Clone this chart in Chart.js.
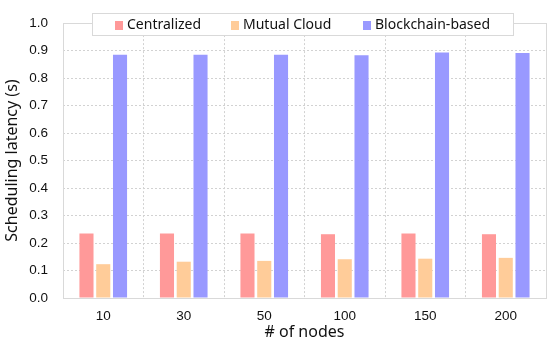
<!DOCTYPE html>
<html>
<head>
<meta charset="utf-8">
<script src="https://cdn.jsdelivr.net/npm/chart.js@4"></script>
<style>
  html, body { margin: 0; padding: 0; background: #fff; }
  #wrap { width: 550px; height: 346px; }
</style>
</head>
<body>
<div id="wrap"><canvas id="chart"></canvas></div>
<script>
// values
const nodes = ['10', '30', '50', '100', '150', '200'];
const centralized = [0.235, 0.235, 0.235, 0.232, 0.235, 0.232];
const mutualCloud = [0.123, 0.132, 0.135, 0.141, 0.143, 0.146];
const blockchain = [0.885, 0.885, 0.885, 0.883, 0.893, 0.891];
const seriesNames = ['Centralized', 'Mutual Cloud', 'Blockchain-based'];
const seriesColors = ['#ff9999', '#ffcc99', '#9999ff'];

const uiFont = '"Noto Sans", "Open Sans", sans-serif';
const tickFont = '"Liberation Sans", Arial, sans-serif';

// frame round the plot + legend box inside it
const framePlugin = {
    id: 'frame',
    afterDraw(chart) {
        const ctx = chart.ctx;
        const a = chart.chartArea;
        ctx.save();
        ctx.strokeStyle = '#d9d9d9';
        ctx.lineWidth = 1;
        ctx.strokeRect(Math.round(a.left) + 0.5, Math.round(a.top) + 0.5,
            Math.round(a.right - a.left), Math.round(a.bottom - a.top));

        // legend
        const bx = 92, by = 13, bw = 421, bh = 22;
        ctx.fillStyle = '#fff';
        ctx.fillRect(bx, by, bw, bh);
        ctx.strokeStyle = '#d9d9d9';
        ctx.strokeRect(bx + 0.5, by + 0.5, bw, bh);
        ctx.font = '14px ' + uiFont;
        ctx.textBaseline = 'middle';
        const starts = [115, 231, 363];
        chart.data.datasets.forEach((ds, i) => {
            ctx.fillStyle = ds.backgroundColor;
            ctx.fillRect(starts[i], 21, 8, 9);
            ctx.fillStyle = '#111';
            ctx.fillText(ds.label, starts[i] + 12, 25);
        });
        ctx.restore();
    }
};

const datasets = [centralized, mutualCloud, blockchain].map((vals, i) => ({
    label: seriesNames[i],
    data: vals,
    backgroundColor: seriesColors[i],
    borderWidth: 0,
    categoryPercentage: 0.625,
    barPercentage: 0.84
}));

new Chart(document.getElementById('chart'), {
    type: 'bar',
    data: { labels: nodes, datasets: datasets },
    plugins: [framePlugin],
    options: {
        responsive: true,
        maintainAspectRatio: false,
        animation: false,
        layout: { padding: { top: 10, right: 4, left: 3, bottom: 0 } },
        plugins: {
            legend: { display: false },
            tooltip: { enabled: false }
        },
        scales: {
            x: {
                grid: { color: '#d2d2d2', drawTicks: false, tickLength: 0 },
                border: { display: false, dash: [2, 2] },
                ticks: { color: '#111', font: { family: tickFont, size: 13.5 }, padding: 10 },
                title: { display: true, text: '# of nodes', color: '#111',
                         font: { family: uiFont, size: 16 }, padding: { top: 1, bottom: 4 } },
                afterFit(s) { s.height = 48; }
            },
            y: {
                min: 0, max: 1.0,
                ticks: { stepSize: 0.1, color: '#111', font: { family: tickFont, size: 13.5 },
                         padding: 15, callback: v => v.toFixed(1) },
                grid: { color: '#d2d2d2', drawTicks: false, tickLength: 0 },
                border: { display: false, dash: [2, 2] },
                title: { display: true, text: 'Scheduling latency (s)', color: '#111',
                         font: { family: uiFont, size: 16 }, padding: { top: 0, bottom: 0 } },
                afterFit(s) { s.width = 60; }
            }
        }
    }
});
</script>
</body>
</html>
